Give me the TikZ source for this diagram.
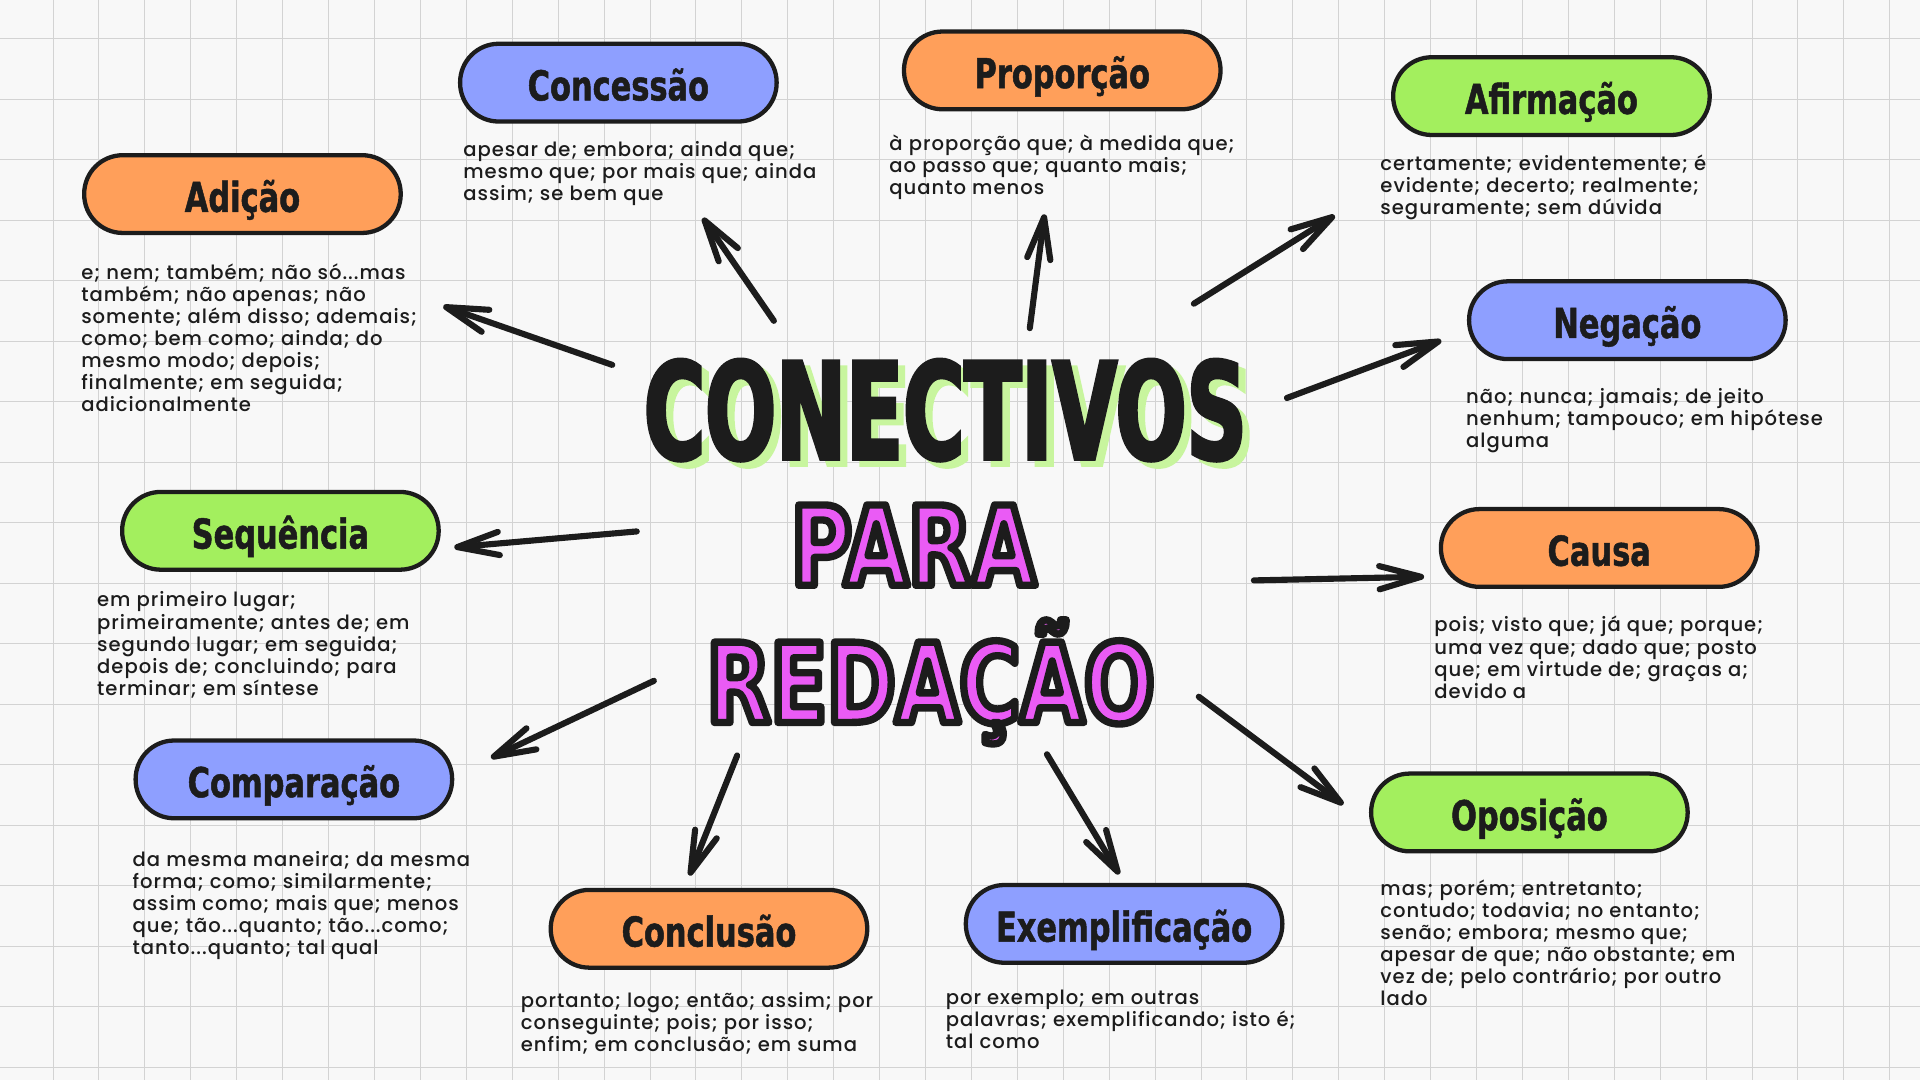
\documentclass[tikz,border=0pt]{standalone}
\usepackage{fontspec}
\usetikzlibrary{arrows.meta}

\newfontfamily\headfont{DejaVu Sans}[UprightFont=* Bold, FakeStretch=0.74, FakeBold=1.2]
\newfontfamily\titlefont{DejaVu Sans}[UprightFont=* Bold, FakeStretch=0.62, FakeBold=2.5]
\newfontfamily\subtitlefont{DejaVu Sans}[UprightFont=* Bold, FakeStretch=0.75]
\newfontfamily\bodyfont{Poppins}[UprightFont=* Medium, LetterSpace=5]

\definecolor{pillorange}{HTML}{FF9F5A}
\definecolor{pillblue}{HTML}{8E9FFF}
\definecolor{pillgreen}{HTML}{A3EF5E}
\definecolor{titlepink}{HTML}{EA5BF5}
\definecolor{titleshade}{HTML}{C8F59E}
\definecolor{ink}{HTML}{1C1C1C}
\definecolor{paper}{HTML}{F8F8F8}
\definecolor{gridline}{HTML}{D3D3D3}

% outlined pink letters
\newcommand{\inked}[1]{\textcolor{titlepink}{\special{pdf:literal direct 0.11 0.11 0.11 RG 2 Tr 6 w 1 j}#1\special{pdf:literal direct 0 Tr}}}

\tikzset{every picture/.style={line width=0.75pt}}
\tikzset{
	pill/.style={draw=ink, line width=3.5pt, rounded corners=31.5pt, minimum width=258.5pt, minimum height=63.5pt, inner sep=0pt, text=ink, text height=29pt, text depth=0pt, font=\headfont\fontsize{33.6}{36}\selectfont},
	info/.style={anchor=north west, align=left, inner sep=0pt, text=ink, font=\bodyfont\fontsize{16}{18}\selectfont, execute at begin node=\rule{0pt}{14pt}},
	hand/.style={draw=ink, line width=5pt, line cap=round, -{Straight Barb[length=34pt,width=19pt,round]}},
}

\begin{document}
\begin{tikzpicture}[x=1pt,y=1pt,yscale=-1,xscale=1]
	\useasboundingbox (0,0) rectangle (1568,882);

	%Shape: Paper with grid
	\fill[paper] (0,0) rectangle (1568,882);
	\foreach \i in {0,...,40} \draw[gridline] ({43.3+37.5*\i},0) -- ({43.3+37.5*\i},882);
	\foreach \j in {0,...,17} \draw[gridline] (0,{31.8+49.4*\j}) -- (1568,{31.8+49.4*\j});

	% Text Node: title
	\node[anchor=base, text=titleshade, font=\titlefont\fontsize{110}{112}\selectfont] (titleshadow) at (778,380) {CONECTIVOS};
	\node[anchor=base, text=ink, font=\titlefont\fontsize{110}{112}\selectfont] (title) at (772,375) {CONECTIVOS};
	\node[anchor=base, font=\subtitlefont\fontsize{90}{92}\selectfont] (para) at (746,478) {\inked{PARA}};
	\node[anchor=base, font=\subtitlefont\fontsize{90}{92}\selectfont] (redacao) at (760,590) {\inked{REDAÇÃO}};

	%Shape: Rounded Rect [pills]
	\node[pill, fill=pillorange] (adicao) at (198,158.5) {Adição};
	\node[pill, fill=pillblue] (concessao) at (505,67.5) {Concessão};
	\node[pill, fill=pillorange] (proporcao) at (867.5,57.5) {Proporção};
	\node[pill, fill=pillgreen] (afirmacao) at (1267,78.5) {Afirmação};
	\node[pill, fill=pillblue] (negacao) at (1329,261.5) {Negação};
	\node[pill, fill=pillgreen] (sequencia) at (229,433.5) {Sequência};
	\node[pill, fill=pillorange] (causa) at (1306,447.5) {Causa};
	\node[pill, fill=pillblue] (comparacao) at (240,636.5) {Comparação};
	\node[pill, fill=pillgreen] (oposicao) at (1249,663.5) {Oposição};
	\node[pill, fill=pillorange] (conclusao) at (579,758.5) {Conclusão};
	\node[pill, fill=pillblue] (exemplificacao) at (918,754.5) {Exemplificação};

	% Text Node: lists
	\node[info] (adicaotxt) at (66,215) {e; nem; também; não só...mas\\também; não apenas; não\\somente; além disso; ademais;\\como; bem como; ainda; do\\mesmo modo; depois;\\finalmente; em seguida;\\adicionalmente};
	\node[info] (concessaotxt) at (378,115) {apesar de; embora; ainda que;\\mesmo que; por mais que; ainda\\assim; se bem que};
	\node[info] (proporcaotxt) at (726,110) {à proporção que; à medida que;\\ao passo que; quanto mais;\\quanto menos};
	\node[info] (afirmacaotxt) at (1127,126) {certamente; evidentemente; é\\evidente; decerto; realmente;\\seguramente; sem dúvida};
	\node[info] (negacaotxt) at (1197,317) {não; nunca; jamais; de jeito\\nenhum; tampouco; em hipótese\\alguma};
	\node[info] (sequenciatxt) at (79,483) {em primeiro lugar;\\primeiramente; antes de; em\\segundo lugar; em seguida;\\depois de; concluindo; para\\terminar; em síntese};
	\node[info] (causatxt) at (1171,503) {pois; visto que; já que; porque;\\uma vez que; dado que; posto\\que; em virtude de; graças a;\\devido a};
	\node[info] (comparacaotxt) at (108,695) {da mesma maneira; da mesma\\forma; como; similarmente;\\assim como; mais que; menos\\que; tão...quanto; tão...como;\\tanto...quanto; tal qual};
	\node[info] (conclusaotxt) at (425,810) {portanto; logo; então; assim; por\\conseguinte; pois; por isso;\\enfim; em conclusão; em suma};
	\node[info] (exemplificacaotxt) at (772,808) {por exemplo; em outras\\palavras; exemplificando; isto é;\\tal como};
	\node[info] (oposicaotxt) at (1127,718) {mas; porém; entretanto;\\contudo; todavia; no entanto;\\senão; embora; mesmo que;\\apesar de que; não obstante; em\\vez de; pelo contrário; por outro\\lado};

	% Arrow ends
	\coordinate (fromadicao) at (500,298);
	\coordinate (toadicao) at (362,250);
	\coordinate (fromconcessao) at (632,262);
	\coordinate (toconcessao) at (574,178);
	\coordinate (fromproporcao) at (841,268);
	\coordinate (toproporcao) at (853,175);
	\coordinate (fromafirmacao) at (975,248);
	\coordinate (toafirmacao) at (1090,176);
	\coordinate (fromnegacao) at (1051,325);
	\coordinate (tonegacao) at (1177,278);
	\coordinate (fromcausa) at (1024,474);
	\coordinate (tocausa) at (1163,471);
	\coordinate (fromoposicao) at (979,569);
	\coordinate (tooposicao) at (1097,657);
	\coordinate (fromexemplificacao) at (855,616);
	\coordinate (toexemplificacao) at (914,714);
	\coordinate (fromconclusao) at (602,617);
	\coordinate (toconclusao) at (563,715);
	\coordinate (fromcomparacao) at (534,556);
	\coordinate (tocomparacao) at (401,619);
	\coordinate (fromsequencia) at (520,434);
	\coordinate (tosequencia) at (371,447);

	%Straight Lines [hand arrows]
	\foreach \n in {adicao,concessao,proporcao,afirmacao,negacao,causa,oposicao,exemplificacao,conclusao,comparacao,sequencia}
		\draw[hand] (from\n) -- (to\n);

\end{tikzpicture}
\end{document}
